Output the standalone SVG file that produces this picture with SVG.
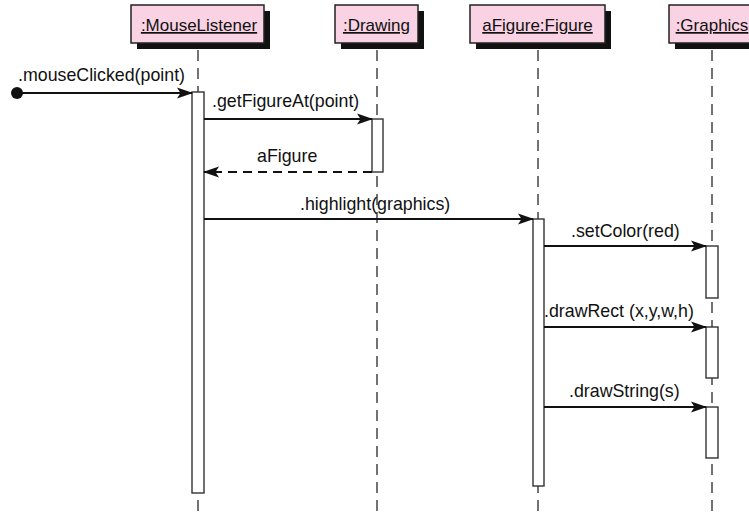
<svg xmlns="http://www.w3.org/2000/svg" width="749" height="515" viewBox="0 0 749 515">
<style>
.shadow{fill:#111;}
.head{fill:#f9d3e3;stroke:#222;stroke-width:1.5;}
.title{font-family:"Liberation Sans",Arial,sans-serif;font-size:17px;fill:#111;text-anchor:middle;text-decoration:underline;}
.life{stroke:#444;stroke-width:1.5;stroke-dasharray:11 7;fill:none;}
.act{fill:#fff;stroke:#333;stroke-width:1.4;}
.msg{stroke:#111;stroke-width:2;fill:none;marker-end:url(#arr);}
.ret{stroke:#111;stroke-width:2;fill:none;stroke-dasharray:9 6;marker-end:url(#arr);}
.lbl{font-family:"Liberation Sans",Arial,sans-serif;font-size:17.8px;fill:#111;}
</style>
<defs>
<marker id="arr" markerWidth="16" markerHeight="12" refX="15" refY="6" orient="auto" markerUnits="userSpaceOnUse">
<path d="M0,0.5 L16,6 L0,11.5 L3.5,6 Z" fill="#111"/>
</marker>
</defs>
<rect width="749" height="515" fill="#fff"/>
<g id="mouseListener">
<line class="life" x1="198" y1="50" x2="198" y2="515"/>
<rect class="shadow" x="137" y="11" width="133" height="38"/>
<rect class="head" x="131" y="5" width="133" height="38"/>
<text class="title" x="199" y="31">:MouseListener</text>
<rect class="act" x="192" y="92" width="12" height="401"/>
</g>
<g id="drawing">
<line class="life" x1="377" y1="50" x2="377" y2="515"/>
<rect class="shadow" x="341" y="11" width="83" height="38"/>
<rect class="head" x="335" y="5" width="83" height="38"/>
<text class="title" x="376.5" y="31">:Drawing</text>
<rect class="act" x="372" y="119" width="11" height="53"/>
</g>
<g id="aFigure">
<line class="life" x1="538" y1="50" x2="538" y2="515"/>
<rect class="shadow" x="476" y="11" width="135" height="38"/>
<rect class="head" x="470" y="5" width="135" height="38"/>
<text class="title" x="537.5" y="31">aFigure:Figure</text>
<rect class="act" x="533" y="219" width="11" height="267"/>
</g>
<g id="graphics">
<line class="life" x1="712" y1="50" x2="712" y2="515"/>
<rect class="shadow" x="675" y="11" width="86" height="38"/>
<rect class="head" x="669" y="5" width="86" height="38"/>
<text class="title" x="712" y="31">:Graphics</text>
<rect class="act" x="706" y="246" width="12" height="52"/>
<rect class="act" x="706" y="327" width="12" height="51"/>
<rect class="act" x="706" y="407" width="12" height="51"/>
</g>
<g id="connectors">
<circle cx="17" cy="93" r="6" fill="#111"/>
<line class="msg" x1="17" y1="93" x2="192" y2="93"/>
<text class="lbl" x="18" y="81">.mouseClicked(point)</text>
<line class="msg" x1="204" y1="119" x2="372" y2="119"/>
<text class="lbl" x="212" y="107">.getFigureAt(point)</text>
<line class="ret" x1="372" y1="172" x2="204" y2="172"/>
<text class="lbl" x="257" y="162">aFigure</text>
<line class="msg" x1="204" y1="219" x2="533" y2="219"/>
<text class="lbl" x="300" y="210">.highlight(graphics)</text>
<line class="msg" x1="544" y1="246" x2="706" y2="246"/>
<text class="lbl" x="571" y="237">.setColor(red)</text>
<line class="msg" x1="544" y1="327" x2="706" y2="327"/>
<text class="lbl" x="544" y="317">.drawRect (x,y,w,h)</text>
<line class="msg" x1="544" y1="407" x2="706" y2="407"/>
<text class="lbl" x="569" y="397">.drawString(s)</text>
</g>
</svg>
